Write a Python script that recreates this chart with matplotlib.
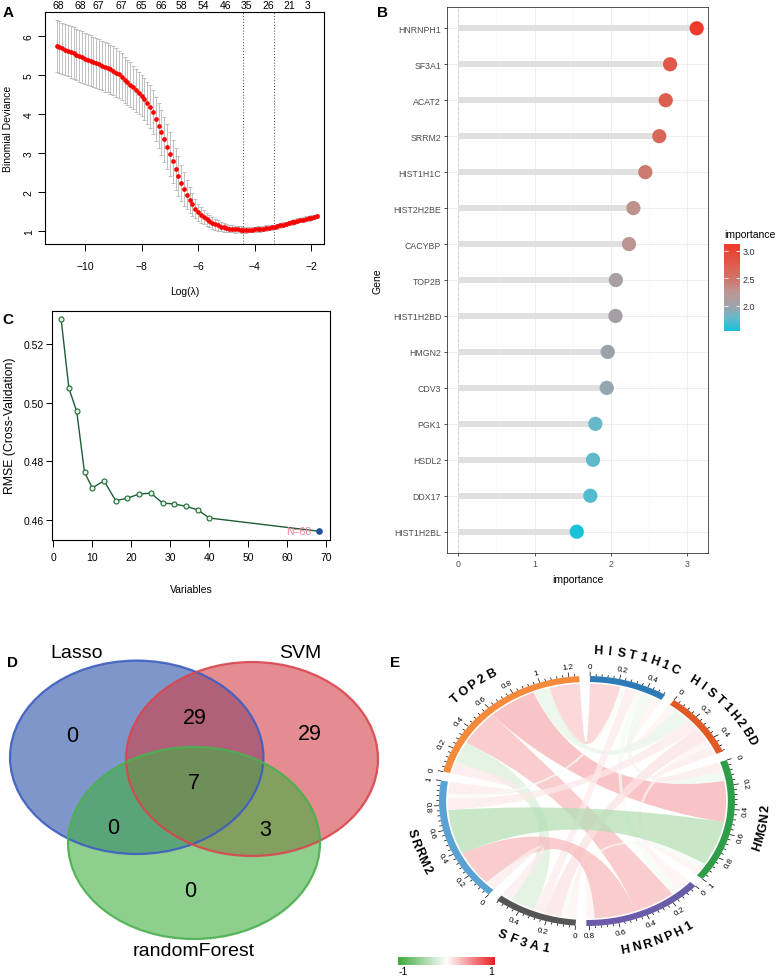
import numpy as np
import matplotlib
matplotlib.use('Agg')
import matplotlib.pyplot as plt
from matplotlib.path import Path
from matplotlib.patches import PathPatch, Polygon, Ellipse
from matplotlib.colors import LinearSegmentedColormap, Normalize
from matplotlib.collections import LineCollection

plt.rcParams['font.family'] = ['Liberation Sans', 'DejaVu Sans']

W, H = 782, 978

# ---- A: lasso CV ----
log_lambda = [-11.0, -10.9, -10.8, -10.7, -10.6, -10.5, -10.4, -10.3, -10.2, -10.1,
              -10.0, -9.9, -9.8, -9.7, -9.6, -9.5, -9.4, -9.3, -9.2, -9.1,
              -9.0, -8.9, -8.8, -8.7, -8.6, -8.5, -8.4, -8.3, -8.2, -8.1,
              -8.0, -7.9, -7.8, -7.7, -7.6, -7.5, -7.4, -7.3, -7.2, -7.1,
              -7.0, -6.9, -6.8, -6.7, -6.6, -6.5, -6.4, -6.3, -6.2, -6.1,
              -6.0, -5.9, -5.8, -5.7, -5.6, -5.5, -5.4, -5.3, -5.2, -5.1,
              -5.0, -4.9, -4.8, -4.7, -4.6, -4.5, -4.4, -4.3, -4.2, -4.1,
              -4.0, -3.9, -3.8, -3.7, -3.6, -3.5, -3.4, -3.3, -3.2, -3.1,
              -3.0, -2.9, -2.8, -2.7, -2.6, -2.5, -2.4, -2.3, -2.2, -2.1,
              -2.0, -1.9, -1.8]
cv_mean = [5.75, 5.72, 5.69, 5.66, 5.63, 5.60, 5.57, 5.53, 5.50, 5.47,
           5.43, 5.40, 5.37, 5.34, 5.31, 5.28, 5.25, 5.22, 5.19, 5.15,
           5.12, 5.07, 5.02, 4.96, 4.89, 4.82, 4.76, 4.69, 4.62, 4.55,
           4.48, 4.39, 4.30, 4.19, 4.05, 3.88, 3.71, 3.54, 3.36, 3.17,
           2.98, 2.79, 2.60, 2.41, 2.24, 2.08, 1.94, 1.81, 1.69, 1.58,
           1.49, 1.42, 1.36, 1.31, 1.26, 1.22, 1.18, 1.15, 1.12, 1.10,
           1.08, 1.07, 1.06, 1.055, 1.05, 1.045, 1.04, 1.04, 1.04, 1.045,
           1.05, 1.055, 1.06, 1.07, 1.08, 1.09, 1.10, 1.11, 1.13, 1.15,
           1.17, 1.19, 1.21, 1.23, 1.25, 1.27, 1.29, 1.30, 1.32, 1.33,
           1.35, 1.37, 1.39]
cv_se = [0.66, 0.66, 0.66, 0.66, 0.66, 0.66, 0.66, 0.66, 0.66, 0.66,
         0.66, 0.65, 0.65, 0.65, 0.64, 0.64, 0.64, 0.64, 0.63, 0.63,
         0.63, 0.62, 0.61, 0.60, 0.59, 0.58, 0.57, 0.56, 0.55, 0.54,
         0.53, 0.53, 0.54, 0.55, 0.56, 0.57, 0.58, 0.58, 0.58, 0.58,
         0.57, 0.56, 0.54, 0.51, 0.47, 0.43, 0.38, 0.33, 0.29, 0.25,
         0.22, 0.20, 0.18, 0.17, 0.16, 0.15, 0.14, 0.13, 0.12, 0.11,
         0.10, 0.10, 0.09, 0.09, 0.08, 0.08, 0.08, 0.08, 0.07, 0.07,
         0.07, 0.07, 0.07, 0.07, 0.07, 0.06, 0.06, 0.06, 0.06, 0.06,
         0.06, 0.06, 0.06, 0.06, 0.06, 0.06, 0.06, 0.06, 0.06, 0.06,
         0.06, 0.06, 0.06]
top_pos = [-10.94, -10.18, -9.53, -8.70, -8.0, -7.29, -6.58, -5.83, -5.05, -4.29, -3.52, -2.79, -2.12]
top_nz = [68, 68, 67, 67, 65, 66, 58, 54, 46, 35, 26, 21, 3]
lambda_lines = [-4.43, -3.31]

# ---- B: importance ----
genes_b = ['HNRNPH1', 'SF3A1', 'ACAT2', 'SRRM2', 'HIST1H1C', 'HIST2H2BE', 'CACYBP', 'TOP2B',
           'HIST1H2BD', 'HMGN2', 'CDV3', 'PGK1', 'HSDL2', 'DDX17', 'HIST1H2BL']
importance = [3.124, 2.775, 2.718, 2.634, 2.451, 2.294, 2.237, 2.065,
              2.060, 1.958, 1.945, 1.796, 1.765, 1.730, 1.552]

# ---- C: RFE ----
n_vars = [2, 4, 6, 8, 10, 13, 16, 19, 22, 25, 28, 31, 34, 37, 40, 68]
rmse = [0.5285, 0.5049, 0.4970, 0.4762, 0.4709, 0.4733, 0.4665, 0.4674,
        0.4688, 0.4691, 0.4657, 0.4654, 0.4646, 0.4634, 0.4606, 0.4561]

# ---- D: venn ----
venn_sets = ['Lasso', 'SVM', 'randomForest']
venn_counts = {'100': 0, '010': 29, '001': 0, '110': 29, '101': 0, '011': 3, '111': 7}

# ---- E: correlation chord ----
genes_e = ['TOP2B', 'HIST1H1C', 'HIST1H2BD', 'HMGN2', 'HNRNPH1', 'SF3A1', 'SRRM2']
ring_colors = ['#F58A3B', '#2C7BB6', '#E05A26', '#2E9D49', '#6C5BA8', '#555555', '#5AA2D4']
chord_from = ['TOP2B', 'TOP2B', 'TOP2B', 'TOP2B', 'TOP2B', 'TOP2B',
              'HIST1H1C', 'HIST1H1C', 'HIST1H1C', 'HIST1H1C', 'HIST1H1C',
              'HIST1H2BD', 'HIST1H2BD', 'HIST1H2BD', 'HIST1H2BD',
              'HMGN2', 'HMGN2', 'HMGN2', 'HNRNPH1', 'HNRNPH1', 'SF3A1']
chord_to = ['HIST1H1C', 'HIST1H2BD', 'HMGN2', 'HNRNPH1', 'SF3A1', 'SRRM2',
            'HIST1H2BD', 'HMGN2', 'HNRNPH1', 'SF3A1', 'SRRM2',
            'HMGN2', 'HNRNPH1', 'SF3A1', 'SRRM2',
            'HNRNPH1', 'SF3A1', 'SRRM2', 'SF3A1', 'SRRM2', 'SRRM2']
chord_r = [0.22, -0.12, 0.35, 0.30, -0.18, 0.10,
           0.06, -0.08, -0.05, 0.08, -0.04,
           0.08, 0.05, 0.12, 0.10,
           0.06, -0.05, -0.38, 0.06, 0.30, 0.08]

fig = plt.figure(figsize=(W / 100, H / 100), dpi=100, facecolor='white')


def px_axes(x0, y0, x1, y1):
    return fig.add_axes([x0 / W, 1 - y1 / H, (x1 - x0) / W, (y1 - y0) / H])


# ── A ──────────────────────────────
axA = px_axes(45, 12.7, 324, 245)
axA.errorbar(log_lambda, cv_mean, yerr=cv_se, fmt='none', ecolor='#B5B5B5',
             elinewidth=0.6, capsize=1.6, capthick=0.6, zorder=2)
axA.plot(log_lambda, cv_mean, 'o', color='#FF0000', ms=3.4, mew=0, zorder=3)
for v in lambda_lines:
    axA.axvline(v, color='#444444', ls=(0, (1, 2)), lw=0.7)
axA.set_xlim(-11.41, -1.555)
axA.set_ylim(0.674, 6.63)
axA.set_xticks([-10, -8, -6, -4, -2])
axA.set_yticks([1, 2, 3, 4, 5, 6])
axA.tick_params(axis='x', length=5, width=0.7, labelsize=7.5, pad=7)
axA.tick_params(axis='y', length=5, width=0.7, labelsize=7.5, pad=3, labelrotation=90)
for t in axA.get_yticklabels():
    t.set_va('center')
for sp in axA.spines.values():
    sp.set_linewidth(0.8)
axA.set_xlabel('Log(λ)', fontsize=7.5)
axA.xaxis.set_label_coords(0.5, -0.18)
axA.set_ylabel('Binomial Deviance', fontsize=7.5)
axA.yaxis.set_label_coords(-0.115, 0.5)
topA = axA.secondary_xaxis('top')
topA.set_xticks(top_pos, labels=[str(n) for n in top_nz])
topA.tick_params(length=0, labelsize=7.5, pad=1.5)
topA.spines['top'].set_visible(False)

# ── C ──────────────────────────────
axC = px_axes(51.7, 311.7, 330, 540.7)
axC.plot(n_vars, rmse, '-', color='#1E5E34', lw=1.0, zorder=2)
axC.plot(n_vars[:-1], rmse[:-1], 'o', ms=3.6, mfc='#E6F0E6', mec='#1E6B35', mew=0.8, zorder=3)
axC.plot(n_vars[-1:], rmse[-1:], 'o', ms=3.8, color='#1F4E9E', zorder=4)
axC.text(n_vars[-1] - 1.8, rmse[-1], f'N={n_vars[-1]}', color='#E58399',
         fontsize=7.5, ha='right', va='center')
axC.set_xlim(-0.41, 70.9)
axC.set_ylim(0.4532, 0.5314)
axC.set_xticks(range(0, 71, 10))
axC.set_yticks([0.46, 0.48, 0.50, 0.52])
axC.set_yticklabels(['0.46', '0.48', '0.50', '0.52'])
axC.tick_params(axis='x', length=5, width=0.7, labelsize=7.5, pad=4)
axC.tick_params(axis='y', length=4, width=0.7, labelsize=7.5, pad=1.5)
for sp in axC.spines.values():
    sp.set_linewidth(0.8)
axC.set_xlabel('Variables', fontsize=7.5)
axC.xaxis.set_label_coords(0.5, -0.193)
axC.set_ylabel('RMSE (Cross-Validation)', fontsize=8.8)
axC.yaxis.set_label_coords(-0.13, 0.5)

# ── B ──────────────────────────────
axB = px_axes(446.7, 8.3, 708.3, 554)
ypos = np.arange(len(genes_b), 0, -1)
cmapB = LinearSegmentedColormap.from_list('imp', [
    (0.0, '#19C1DA'), (0.16, '#6CB8C8'), (0.26, '#98A4AE'), (0.33, '#A8A0A4'),
    (0.47, '#C0928E'), (0.57, '#CC7A70'), (0.69, '#D86858'), (0.78, '#E0584A'),
    (1.0, '#EE3A2A')])
axB.set_xticks([0, 1, 2, 3])
axB.set_xticks([0.5, 1.5, 2.5], minor=True)
axB.set_yticks(ypos)
axB.set_yticklabels(genes_b)
axB.grid(which='major', color='#EBEBEB', lw=0.6)
axB.grid(which='minor', axis='x', color='#F5F5F5', lw=0.4)
axB.set_axisbelow(True)
axB.axvline(0, color='#CFCFCF', ls='--', lw=0.7, zorder=1)
axB.hlines(ypos, 0, importance, color='#E0E0E0', lw=4.3, zorder=2)
sc = axB.scatter(importance, ypos, c=importance, cmap=cmapB, s=105, zorder=3, edgecolors='none')
axB.set_xlim(-0.152, 3.276)
axB.set_ylim(0.408, 15.584)
axB.tick_params(axis='both', which='major', length=2.5, width=0.6, color='#333333',
                labelsize=6.3, labelcolor='#4D4D4D', pad=1.5)
axB.tick_params(which='minor', length=0)
for sp in axB.spines.values():
    sp.set_color('#333333')
    sp.set_linewidth(0.6)
axB.set_xlabel('importance', fontsize=7.5)
axB.xaxis.set_label_coords(0.5, -0.0385)
axB.set_ylabel('Gene', fontsize=7.5)
axB.yaxis.set_label_coords(-0.247, 0.5)

cax = px_axes(724.3, 245, 740, 331.7)
cb = fig.colorbar(sc, cax=cax)
cb.outline.set_visible(False)
cb.set_ticks([2.0, 2.5, 3.0])
cb.set_ticklabels(['2.0', '2.5', '3.0'])
cax.tick_params(direction='in', color='white', length=3, width=0.6, left=True, right=True,
                labelsize=6.5, labelcolor='#333333', pad=2)

# ── E ──────────────────────────────
axE = px_axes(389, 626, 782, 978)
axE.axis('off')

n = len(genes_e)
idx = {g: i for i, g in enumerate(genes_e)}
size = {g: 0.0 for g in genes_e}
partners = {g: [] for g in genes_e}
for a, b, r in zip(chord_from, chord_to, chord_r):
    size[a] += abs(r)
    size[b] += abs(r)
    partners[a].append((b, r))
    partners[b].append((a, r))

gap = 4.2
start_deg = 166.4
dpu = (360 - n * gap) / sum(size.values())
sec_start = {}
cur = start_deg
for g in genes_e:
    sec_start[g] = cur
    cur -= size[g] * dpu + gap

link_arc = {}
for g in genes_e:
    i = idx[g]
    plist = sorted(partners[g], key=lambda p: -((idx[p[0]] - i) % n))
    pos = 0.0
    for p, r in plist:
        w = abs(r)
        link_arc[(g, p)] = (sec_start[g] - pos * dpu, sec_start[g] - (pos + w) * dpu)
        pos += w


def arc_pts(t0, t1, r, k=40):
    t = np.radians(np.linspace(t0, t1, k))
    return np.column_stack([r * np.cos(t), r * np.sin(t)])


cmapE = LinearSegmentedColormap.from_list('corr', ['#3DAA3D', '#FFFFFF', '#E81E25'])
normE = Normalize(-1, 1)
R = 0.94
for a, b, r in zip(chord_from, chord_to, chord_r):
    A = arc_pts(*link_arc[(a, b)], R)
    B = arc_pts(*link_arc[(b, a)], R)
    verts = list(A) + [(0, 0), B[0]] + list(B[1:]) + [(0, 0), A[0], A[0]]
    codes = ([Path.MOVETO] + [Path.LINETO] * (len(A) - 1) + [Path.CURVE3, Path.CURVE3]
             + [Path.LINETO] * (len(B) - 1) + [Path.CURVE3, Path.CURVE3, Path.CLOSEPOLY])
    axE.add_patch(PathPatch(Path(verts, codes), facecolor=cmapE(normE(r)), alpha=0.75,
                            edgecolor='none', zorder=2))

ticks = []
for g, col in zip(genes_e, ring_colors):
    s, e = sec_start[g], sec_start[g] - size[g] * dpu
    ring = np.vstack([arc_pts(s, e, 1.0), arc_pts(e, s, 0.952)])
    axE.add_patch(Polygon(ring, closed=True, facecolor=col, edgecolor='none', zorder=3))
    k = 0
    while k * 0.04 <= size[g] + 1e-9:
        v = k * 0.04
        th = s - v * dpu
        c, sn = np.cos(np.radians(th)), np.sin(np.radians(th))
        major = k % 5 == 0
        L = 0.035 if major else 0.018
        ticks.append([(c, sn), (c * (1 + L), sn * (1 + L))])
        if major:
            rot = th + 90 if sn < -1e-6 else th - 90
            axE.text(c * 1.078, sn * 1.078, f'{round(v, 1):g}', fontsize=5.8, rotation=rot,
                     transform_rotates_text=True, rotation_mode='anchor',
                     ha='center', va='center', zorder=4)
        k += 1
    # gene name, letters spread along the arc
    mid = (s + e) / 2
    flip = np.sin(np.radians(mid)) < 0
    step = 3.7
    for j, ch in enumerate(g):
        off = (j - (len(g) - 1) / 2) * step
        th = mid + off if flip else mid - off
        rot = th + 90 if flip else th - 90
        axE.text(1.21 * np.cos(np.radians(th)), 1.21 * np.sin(np.radians(th)), ch,
                 fontsize=9, fontweight='bold', rotation=rot, transform_rotates_text=True,
                 rotation_mode='anchor', ha='center', va='center', zorder=4)
axE.add_collection(LineCollection(ticks, colors='black', linewidths=0.5, zorder=4))

grad = np.linspace(-1, 1, 256).reshape(1, -1)
axE.imshow(grad, extent=[-1.277, -0.622, -1.312, -1.248], aspect='auto', cmap=cmapE,
           norm=normE, zorder=3)
axE.text(-1.245, -1.362, '-1', fontsize=7.5, ha='center', va='center')
axE.text(-0.65, -1.362, '1', fontsize=7.5, ha='center', va='center')
axE.set_xlim(-1.338, 1.318)
axE.set_ylim(-1.408, 1.408)

# ── overlay: D venn + panel letters ──────────────
ov = fig.add_axes([0, 0, 1, 1])
ov.set_xlim(0, W)
ov.set_ylim(H, 0)
ov.axis('off')

venn_shapes = [((136.7, 758.3), 253.4, 193.4, '#2850A7', '#3D5EC0'),
               ((252.0, 760.0), 252.0, 194.0, '#D23F46', '#D9464E'),
               ((194.0, 844.0), 252.0, 192.0, '#43AF43', '#4CB050')]
for (cxy, ew, eh, fc, ec) in venn_shapes:
    ov.add_patch(Ellipse(cxy, ew, eh, facecolor=fc, alpha=0.6, edgecolor='none'))
for (cxy, ew, eh, fc, ec) in venn_shapes:
    ov.add_patch(Ellipse(cxy, ew, eh, facecolor='none', edgecolor=ec, lw=1.6, alpha=0.9))

venn_set_pos = [(76.7, 653), (300, 653), (193.3, 951.7)]
for name, (x, y) in zip(venn_sets, venn_set_pos):
    ov.text(x, y, name, fontsize=14, ha='center', va='center')
venn_num_pos = {'100': (72.3, 736.7), '110': (195, 718.3), '010': (310, 735), '111': (194.3, 783.3),
                '101': (113.3, 828.3), '011': (265, 830), '001': (190, 891.7)}
for key, (x, y) in venn_num_pos.items():
    ov.text(x, y, str(venn_counts[key]), fontsize=15.5, ha='center', va='center')

ov.text(724, 235, 'importance', fontsize=7.5, ha='left', va='center')
for lab, x, y in [('A', 8, 13), ('B', 382, 13), ('C', 8, 320), ('D', 13, 663), ('E', 395, 663)]:
    ov.text(x, y, lab, fontsize=11, fontweight='bold', ha='center', va='center')

fig.savefig('out.png', dpi=100, facecolor='white')
